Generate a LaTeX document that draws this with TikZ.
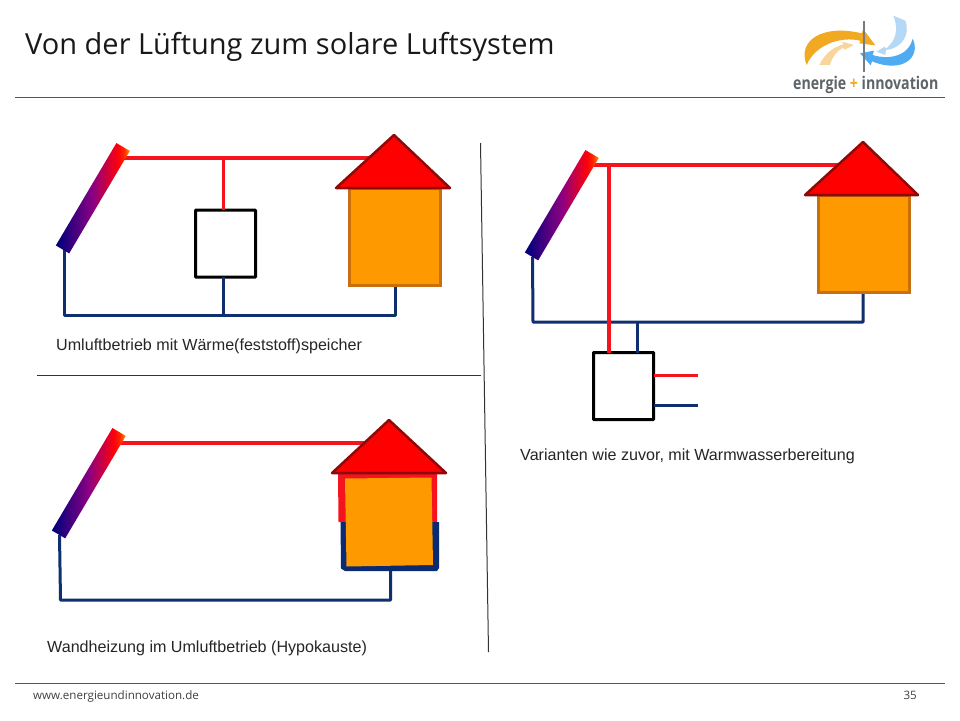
\documentclass[tikz,border=0pt]{standalone}
\usepackage{fontspec}
\setmainfont{Liberation Sans}
\newfontfamily\titlefont{Open Sans}
\usetikzlibrary{calc}
\definecolor{pipered}{HTML}{F5141E}
\definecolor{pipeblue}{HTML}{0F2F6E}
\definecolor{houseorange}{HTML}{FF9900}
\definecolor{houseedge}{HTML}{C8700F}
\definecolor{roofred}{HTML}{FF0000}
\definecolor{roofedge}{HTML}{8E0A0A}
\definecolor{rulegray}{HTML}{555555}
\definecolor{wallblue}{HTML}{0A2A72}
\definecolor{logoorange}{HTML}{F2A922}
\definecolor{logopale}{HTML}{F8D59A}
\definecolor{logoblue}{HTML}{4FABF2}
\definecolor{logopaleblue}{HTML}{B5D8F6}
\definecolor{logogray}{HTML}{5E6468}
\definecolor{cnavy}{HTML}{000078}
\definecolor{cnavyb}{HTML}{18007E}
\definecolor{cpurple}{HTML}{8C0082}
\definecolor{cred}{HTML}{FF000A}
\definecolor{credb}{HTML}{FF2800}
\definecolor{corange}{HTML}{FF9100}
\pgfdeclarehorizontalshading{collectorshade}{100bp}{
 color(0bp)=(cnavy);
 color(25bp)=(cnavy);
 color(30bp)=(cnavyb);
 color(50bp)=(cpurple);
 color(67bp)=(cred);
 color(71bp)=(credb);
 color(75bp)=(corange);
 color(100bp)=(corange)}
\tikzset{
 x=1pt,y=-1pt,
 collector/.style={rectangle,minimum width=119pt,minimum height=15.5pt,inner sep=0pt,outer sep=0pt,rotate=59.4,shading=collectorshade},
 redpipe/.style={draw=pipered,line width=3.1pt},
 bluepipe/.style={draw=pipeblue,line width=3pt,line join=round},
 storebox/.style={rectangle,draw=black,line width=3pt,fill=white,rounded corners=0.6pt,minimum width=60pt,minimum height=67pt,inner sep=0pt,outer sep=0pt},
 housebody/.style={rectangle,draw=houseedge,line width=3pt,fill=houseorange,minimum width=91pt,minimum height=97pt,inner sep=0pt,outer sep=0pt},
 roof/.style={draw=roofedge,line width=2.5pt,fill=roofred,line join=round},
 caption/.style={anchor=base west,inner sep=0pt,font=\fontsize{16.1}{18}\selectfont,text=black!85},
 rulerline/.style={draw=rulegray,line width=1pt},
 dividerline/.style={draw=black!80,line width=1pt},
}
\begin{document}
\begin{tikzpicture}
\useasboundingbox (0,0) rectangle (960,720);
\fill[white] (0,0) rectangle (960,720);
% frame
\node[anchor=base west,inner sep=0pt,font=\titlefont\fontsize{29}{33}\selectfont,text=black!90] (title) at (25,54) {Von der Lüftung zum solare Luftsystem};
\coordinate (hl) at (15,97.5); \coordinate (hr) at (945,97.5);
\coordinate (fl) at (15,683.5); \coordinate (fr) at (945,683.5);
\draw[rulerline] (hl) -- (hr);
\draw[rulerline] (fl) -- (fr);
\node[anchor=base west,inner sep=0pt,font=\titlefont\fontsize{11.6}{13}\selectfont,text=black!75] (web) at (33,699) {www.energieundinnovation.de};
\node[anchor=base east,inner sep=0pt,font=\titlefont\fontsize{11.6}{13}\selectfont,text=black!75] (page) at (917,699) {35};
% dividers
\coordinate (va) at (480.5,143); \coordinate (vb) at (488.5,652);
\coordinate (ha) at (37,375.5); \coordinate (hb) at (480.5,375.5);
\draw[dividerline] (va) -- (vb);
\draw[dividerline] (ha) -- (hb);
% logo
\begin{scope}[shift={(780,0)},x=0.3333pt,y=-0.3333pt]
\fill[logopale] (118,195) .. controls (132,165) and (155,143) .. (190,133) -- (186,125) -- (222,135) -- (192,150) -- (192,143) .. controls (170,150) and (155,175) .. (150,195) -- cycle;
\fill[logoorange] (80,195) .. controls (50,120) and (130,72) .. (245,100) -- (250,88) -- (286,136) -- (238,130) -- (241,122) .. controls (180,108) and (105,135) .. (80,195) -- cycle;
\fill[logopaleblue] (340,47) -- (376,62) .. controls (392,105) and (365,145) .. (318,150) -- (316,165) -- (290,155) -- (314,140) -- (318,146) .. controls (345,125) and (358,90) .. (340,47) -- cycle;
\fill[logoblue] (398,116) .. controls (424,170) and (370,222) .. (276,184) -- (272,196) -- (240,160) -- (282,152) -- (278,165) .. controls (325,180) and (385,170) .. (398,116) -- cycle;
\draw[draw=logogray!85,line width=2pt] (252,63) -- (252,215);
\end{scope}
\node[anchor=base west,inner sep=0pt,font=\titlefont\bfseries\fontsize{17.5}{20}\selectfont,text=logogray,xscale=0.81] (logo) at (793,89) {energie \textcolor{logoorange}{+} innovation};
% ---------- panel 1
\coordinate (a1) at (124,158); \coordinate (a2) at (223.5,158); \coordinate (a3) at (375,158);
\node[storebox] (box1) at (225.5,243.7) {};
\coordinate (b1) at (64,250); \coordinate (b2) at (64,315); \coordinate (b3) at (223.5,315); \coordinate (b4) at (395,315); \coordinate (b5) at (395,285);
\draw[redpipe] (a1) -- (a3);
\draw[redpipe] (a2) -- (a2 |- box1.north);
\draw[bluepipe] (b1) -- (b2) -- (b4) -- (b5);
\draw[bluepipe] (b3) -- (b3 |- box1.south);
\node[collector] (col1) at (92.8,198.2) {};
\node[housebody] (house1) at (394.5,236.5) {};
\coordinate (r1a) at (394,135); \coordinate (r1b) at (450,188); \coordinate (r1c) at (336,188);
\path[roof] (r1a) -- (r1b) -- (r1c) -- cycle;
\node[caption] (cap1) at (56,350) {Umluftbetrieb mit Wärme(feststoff)speicher};
% ---------- panel 2
\coordinate (c1) at (593,165); \coordinate (c2) at (609,165); \coordinate (c3) at (843,165);
\node[storebox] (box2) at (623.5,386) {};
\coordinate (d1) at (532.5,257); \coordinate (d2) at (533,322); \coordinate (d3) at (637,322); \coordinate (d4) at (863,322); \coordinate (d5) at (863,292);
\coordinate (s1) at (698,375.5); \coordinate (s2) at (698,405.5);
\draw[bluepipe] (d1) -- (d2) -- (d4) -- (d5);
\draw[bluepipe] (d3) -- (d3 |- box2.north);
\draw[redpipe] (c1) -- (c3);
\draw[redpipe] (c2) -- (c2 |- box2.north);
\draw[redpipe] (box2.east |- s1) -- (s1);
\draw[bluepipe] (box2.east |- s2) -- (s2);
\node[collector] (col2) at (561.8,205.2) {};
\node[housebody] (house2) at (863.5,243.5) {};
\coordinate (r2a) at (863,142); \coordinate (r2b) at (918,195); \coordinate (r2c) at (805,195);
\path[roof] (r2a) -- (r2b) -- (r2c) -- cycle;
\node[caption] (cap2) at (520,460) {Varianten wie zuvor, mit Warmwasserbereitung};
% ---------- panel 3
\coordinate (e1) at (118,443); \coordinate (e2) at (370,443);
\coordinate (f1) at (59.5,535); \coordinate (f2) at (60.5,600); \coordinate (f3) at (390.5,600); \coordinate (f4) at (390.5,568);
\draw[redpipe] (e1) -- (e2);
\draw[bluepipe] (f1) -- (f2) -- (f3) -- (f4);
\node[collector] (col3) at (88.8,483.2) {};
\fill[pipered] (338,473) -- (437,473) -- (437,522) -- (338.5,522) -- cycle;
\fill[wallblue] (340.5,522) -- (439,522) -- (439,568) -- (437,571) -- (345,571) -- (341,568.5) -- cycle;
\fill[houseorange] (345,478.5) -- (431.5,477.5) -- (433,565) -- (346.5,566.5) -- cycle;
\coordinate (r3a) at (389,420); \coordinate (r3b) at (446,473); \coordinate (r3c) at (332,473);
\path[roof] (r3a) -- (r3b) -- (r3c) -- cycle;
\node[caption] (cap3) at (47,652) {Wandheizung im Umluftbetrieb (Hypokauste)};
\end{tikzpicture}
\end{document}
